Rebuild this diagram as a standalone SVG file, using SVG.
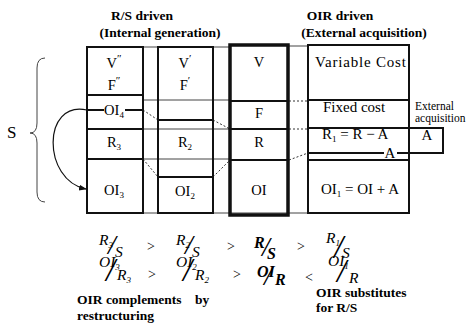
<svg xmlns="http://www.w3.org/2000/svg" width="467" height="326" viewBox="0 0 467 326">
<style>
text{font-family:"Liberation Serif","Times New Roman",serif;fill:#000}
.hd{font-weight:bold;font-size:13.5px;text-anchor:middle}
.c{font-size:14.5px;text-anchor:middle}
.c4{font-size:15px}
.sm{font-size:11.5px}
.f{font-style:italic;font-size:15.5px}
.fb{font-style:italic;font-weight:bold;font-size:16px}
.sub{font-size:9px}
.op{font-size:14px}
.sl{font-style:italic;font-size:28px;font-weight:normal}
.sl2{font-style:italic;font-size:33px;font-weight:normal}
.bt{font-weight:bold;font-size:13.5px}
.box{fill:none;stroke:#111;stroke-width:2}
.thick{fill:none;stroke:#111;stroke-width:3.5}
.ln{stroke:#111;stroke-width:2;fill:none}
.thin{stroke:#444;stroke-width:1;fill:none}
.dash{stroke:#333;stroke-width:1;stroke-dasharray:2 2;fill:none}
</style>
<defs>
<marker id="ah" markerWidth="8" markerHeight="8" refX="7" refY="4" orient="auto" markerUnits="userSpaceOnUse">
<path d="M0,1 L8,4 L0,7 Z" fill="#111"/>
</marker>
</defs>

<g id="headers">
<text class="hd" x="142" y="20">R/S driven</text>
<text class="hd" x="160" y="37">(Internal generation)</text>
<text class="hd" x="340" y="20">OIR driven</text>
<text class="hd" x="364" y="37">(External acquisition)</text>
</g>

<g id="s-label">
<text x="7" y="138" font-size="17">S</text>
<path class="thin" stroke="#111" stroke-width="1.2" d="M45,58 Q37,58 37,68 L37,123 Q37,133 30,133 Q37,133 37,143 L37,192 Q37,202 45,202"/>
</g>

<g id="connectors">
<line class="thin" x1="87" y1="47" x2="230" y2="47"/>
<line class="thin" x1="288" y1="46" x2="308" y2="46"/>
<line class="thin" x1="87" y1="213" x2="409" y2="213"/>
<line class="thin" x1="143" y1="100" x2="230" y2="100"/>
<line class="thin" x1="143" y1="129" x2="230" y2="129"/>
<line class="thin" x1="143" y1="159" x2="230" y2="159"/>
<line class="dash" x1="143" y1="110" x2="158" y2="120"/>
<line class="dash" x1="213" y1="120" x2="230" y2="129"/>
<line class="dash" x1="143" y1="159" x2="158" y2="177"/>
<line class="dash" x1="213" y1="177" x2="230" y2="160"/>
<line class="dash" x1="289" y1="101" x2="308" y2="101"/>
<line class="dash" x1="289" y1="129" x2="308" y2="129"/>
<line class="dash" x1="289" y1="160" x2="308" y2="153"/>
<path d="M87,110 C42,100 42,180 86,189" fill="none" stroke="#111" stroke-width="1.2" marker-end="url(#ah)"/>
</g>

<g id="col1">
<rect class="box" x="87" y="47" width="56" height="166"/>
<line class="ln" x1="87" y1="95" x2="143" y2="95"/>
<line class="ln" x1="87" y1="129" x2="143" y2="129"/>
<line class="ln" x1="87" y1="159" x2="143" y2="159"/>
<line class="ln" stroke-width="1.5" x1="87" y1="110" x2="104" y2="110"/>
<line class="ln" stroke-width="1.5" x1="125" y1="110" x2="143" y2="110"/>
<text class="c" x="114" y="68">V<tspan font-size="11" dy="-6">″</tspan></text>
<text class="c" x="114" y="90">F<tspan font-size="11" dy="-6">″</tspan></text>
<text class="c" x="114" y="115">OI<tspan class="sub" dy="3">4</tspan></text>
<text class="c" x="114" y="147">R<tspan class="sub" dy="3">3</tspan></text>
<text class="c" x="114" y="195">OI<tspan class="sub" dy="3">3</tspan></text>
</g>

<g id="col2">
<rect class="box" x="158" y="47" width="55" height="166"/>
<line class="ln" x1="158" y1="120" x2="213" y2="120"/>
<line class="ln" x1="158" y1="177" x2="213" y2="177"/>
<text class="c" x="185" y="68">V<tspan font-size="11" dy="-6">′</tspan></text>
<text class="c" x="185" y="90">F<tspan font-size="11" dy="-6">′</tspan></text>
<text class="c" x="185" y="147">R<tspan class="sub" dy="3">2</tspan></text>
<text class="c" x="185" y="196">OI<tspan class="sub" dy="3">2</tspan></text>
</g>

<g id="col3">
<rect class="thick" x="230" y="45" width="58" height="170"/>
<line class="ln" x1="230" y1="101" x2="288" y2="101"/>
<line class="ln" x1="230" y1="129" x2="288" y2="129"/>
<line class="ln" x1="230" y1="160" x2="288" y2="160"/>
<text class="c" x="259" y="67">V</text>
<text class="c" x="259" y="118">F</text>
<text class="c" x="259" y="147">R</text>
<text class="c" x="259" y="195">OI</text>
</g>

<g id="col4">
<rect class="box" x="308" y="45" width="101" height="168"/>
<line class="ln" x1="308" y1="100" x2="409" y2="100"/>
<line class="ln" x1="308" y1="128" x2="443" y2="128"/>
<line class="ln" x1="443" y1="127" x2="443" y2="154"/>
<line class="ln" x1="308" y1="153" x2="384" y2="153"/>
<line class="ln" x1="397" y1="153" x2="443" y2="153"/>
<line class="ln" x1="308" y1="160" x2="409" y2="160"/>
<text class="c4" x="315" y="67" letter-spacing="0.8">Variable Cost</text>
<text class="c4" x="323" y="112">Fixed cost</text>
<text class="c4" x="322" y="139">R<tspan class="sub" dy="3">1</tspan><tspan dy="-3"> = R − A</tspan></text>
<text class="c4" x="427" y="140" text-anchor="middle">A</text>
<text class="c4" x="390" y="158" text-anchor="middle">A</text>
<text class="c4" x="321" y="194">OI<tspan class="sub" dy="3">1</tspan><tspan dy="-3"> = OI + A</tspan></text>
<text class="sm" x="415" y="110">External</text>
<text class="sm" x="415" y="122">acquisition</text>
</g>

<g id="ratios">
<text class="f" x="99" y="245">R<tspan class="sub" dy="3">3</tspan><tspan class="sl" x="108" y="254">/</tspan><tspan x="115" y="257">S</tspan></text>
<text class="op" x="147" y="251">&gt;</text>
<text class="f" x="176" y="245">R<tspan class="sub" dy="3">2</tspan><tspan class="sl" x="185" y="254">/</tspan><tspan x="192" y="257">S</tspan></text>
<text class="op" x="227" y="251">&gt;</text>
<text class="fb" x="254" y="248">R<tspan class="sl" x="262" y="256">/</tspan><tspan x="267" y="259">S</tspan></text>
<text class="op" x="297" y="251">&gt;</text>
<text class="f" x="326" y="243">R<tspan class="sub" dy="3">1</tspan><tspan class="sl2" x="334" y="258">/</tspan><tspan x="342" y="258">S</tspan></text>

<text class="f" x="99" y="267">OI<tspan class="sub" dy="3">3</tspan><tspan class="sl2" x="106" y="281">/</tspan><tspan x="117" y="280">R</tspan><tspan class="sub" dy="3">3</tspan></text>
<text class="op" x="148" y="279">&gt;</text>
<text class="f" x="176" y="267">OI<tspan class="sub" dy="3">2</tspan><tspan class="sl2" x="183" y="281">/</tspan><tspan x="195" y="280">R</tspan><tspan class="sub" dy="3">2</tspan></text>
<text class="op" x="233" y="279">&gt;</text>
<text class="fb" x="257" y="277">OI<tspan class="sl" x="264" y="285">/</tspan><tspan x="275" y="285">R</tspan></text>
<text class="op" x="305" y="282">&lt;</text>
<text class="f" x="328" y="266">OI<tspan class="sub" dy="3">1</tspan><tspan class="sl2" x="337" y="282">/</tspan><tspan x="349" y="283">R</tspan></text>
</g>

<g id="notes">
<text class="bt" x="77" y="304">OIR complements <tspan dx="10">by</tspan></text>
<text class="bt" x="77" y="320">restructuring</text>
<text class="bt" x="316" y="297">OIR substitutes</text>
<text class="bt" x="316" y="312">for R/S</text>
</g>
</svg>
